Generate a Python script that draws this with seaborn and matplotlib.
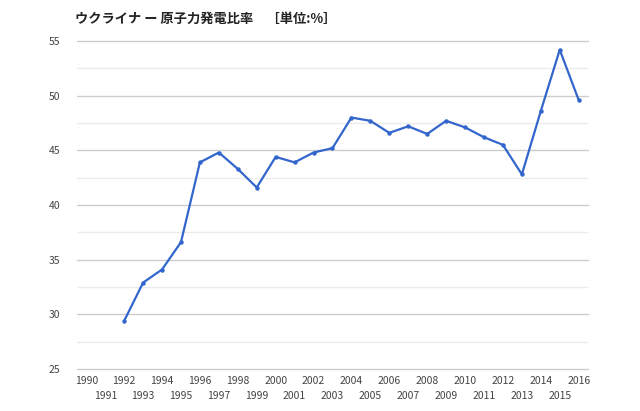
import matplotlib
matplotlib.use("Agg")
import matplotlib.pyplot as plt
import seaborn as sns
import pandas as pd
from matplotlib.ticker import MultipleLocator

years = list(range(1992, 2017))
share = [29.4, 32.9, 34.1, 36.6, 43.9, 44.8, 43.3, 41.6, 44.4, 43.9,
         44.8, 45.2, 48.0, 47.7, 46.6, 47.2, 46.5, 47.7, 47.1, 46.2,
         45.5, 42.8, 48.6, 54.2, 49.6]
tick_years = list(range(1990, 2017))
y_ticks = [25, 30, 35, 40, 45, 50, 55]
title = "ウクライナ ー 原子力発電比率　［単位:%］"

df = pd.DataFrame({"year": years, "share": share})

sns.set_style("white")
plt.rcParams['font.family'] = ['Noto Sans CJK JP', 'DejaVu Sans']

fig = plt.figure(figsize=(6.4, 4.11), dpi=100)
ax = fig.add_axes([0.12, 0.1022, 0.799, 0.798])

sns.lineplot(data=df, x="year", y="share", ax=ax, color="#3366CC",
             linewidth=1.6, marker="o", markersize=3.2, markeredgewidth=0, zorder=3)

ax.set_xlim(1989.5, 2016.5)
ax.set_ylim(25, 55)
ax.set_yticks(y_ticks)
ax.yaxis.set_minor_locator(MultipleLocator(2.5))
ax.grid(axis="y", which="minor", color="#ececec", linewidth=1, zorder=0)
ax.grid(axis="y", which="major", color="#cccccc", linewidth=1, zorder=1)
for ln in ax.get_ygridlines():
    ln.set_clip_on(False)

even = [y for y in tick_years if y % 2 == 0]
odd = [y for y in tick_years if y % 2 == 1]
ax.set_xticks(even)
ax.set_xticklabels([str(y) for y in even])
ax.set_xticks(odd, minor=True)
ax.set_xticklabels([str(y) for y in odd], minor=True)

for s in ax.spines.values():
    s.set_visible(False)
ax.tick_params(axis="both", which="both", length=0, labelsize=7.5, colors="#444444")
ax.tick_params(axis="y", pad=12)
ax.tick_params(axis="x", which="major", pad=5)
ax.tick_params(axis="x", which="minor", pad=16)
ax.set_xlabel("")
ax.set_ylabel("")
fig.text(0.117, 0.955, title, fontsize=9.5, fontweight="bold", color="#222222",
         ha="left", va="center")

fig.savefig("out.png", dpi=100)
